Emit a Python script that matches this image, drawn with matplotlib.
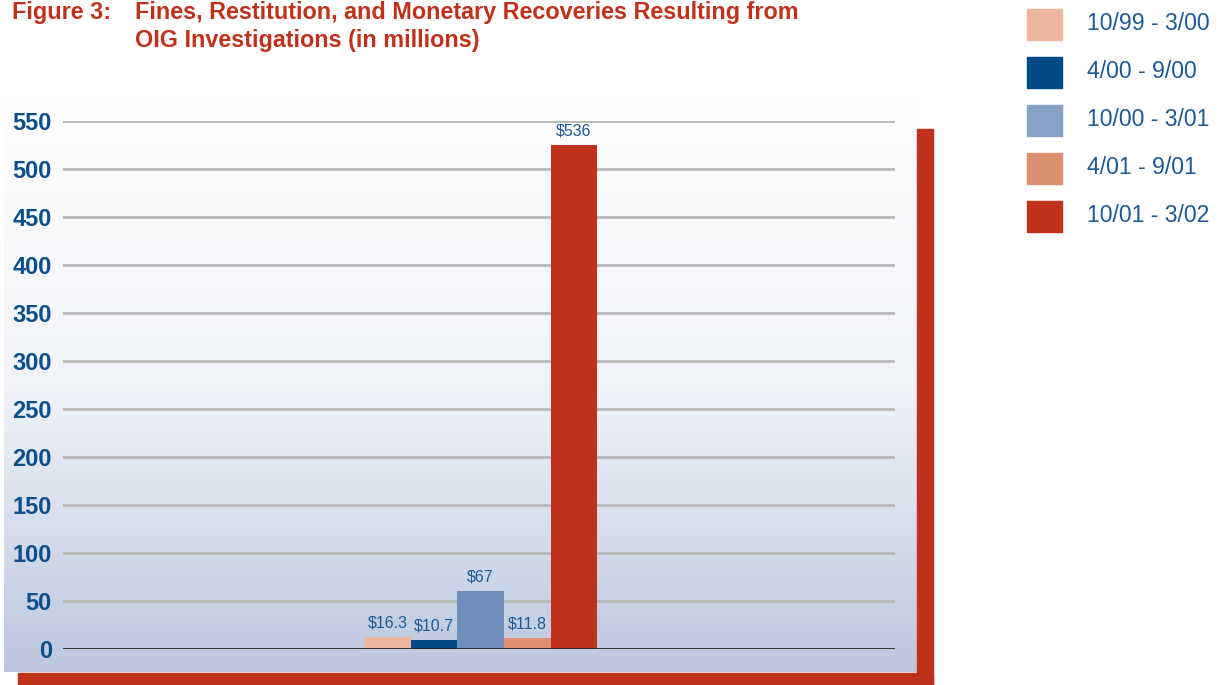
import numpy as np
import matplotlib
matplotlib.use("Agg")
import matplotlib.pyplot as plt
from matplotlib.patches import Rectangle
from matplotlib.colors import LinearSegmentedColormap

# data
periods = ["10/99 - 3/00", "4/00 - 9/00", "10/00 - 3/01", "4/01 - 9/01", "10/01 - 3/02"]
bar_heights = [12.2, 9.4, 60.4, 11.5, 525]   # drawn heights (in millions)
bar_labels = ["$16.3", "$10.7", "$67", "$11.8", "$536"]
yticks = list(range(0, 551, 50))

bar_colors = ["#ebb89e", "#004b87", "#6d8eb8", "#e0906f", "#c0311b"]
legend_colors = ["#ebb89e", "#004b87", "#87a0c5", "#dc8e70", "#c0311b"]
red = "#c0311b"
blue = "#0a4f8c"
fam = ["Liberation Sans", "DejaVu Sans"]

W, H = 1225, 685
fig = plt.figure(figsize=(W / 100, H / 100), dpi=100)

def fx(px):
    return px / W

def fy(py):
    return 1 - py / H

# gradient panel
bg = fig.add_axes([fx(4), fy(672), fx(917 - 4), fy(100) - fy(672)], zorder=0)
cmap = LinearSegmentedColormap.from_list("bg", ["#ffffff", "#f0f3f8", "#bcc7de"])
grad = np.linspace(0, 1, 256).reshape(-1, 1)
bg.imshow(grad, aspect="auto", cmap=cmap, extent=[0, 1, 0, 1], origin="upper")
bg.axis("off")

# red frame on right and bottom
fig.patches.append(Rectangle((fx(917), fy(685)), fx(16), fy(129) - fy(685),
                             transform=fig.transFigure, color=red, zorder=1))
fig.patches.append(Rectangle((fx(18), fy(685)), fx(915), fy(673) - fy(685),
                             transform=fig.transFigure, color=red, zorder=1))

ax = fig.add_axes([fx(63), fy(649), fx(895 - 63), fy(121) - fy(649)], zorder=2)
ax.patch.set_visible(False)
x = np.arange(len(periods))
ax.bar(x, bar_heights, width=1.0, color=bar_colors, zorder=3)
for xi, h, lab in zip(x, bar_heights, bar_labels):
    ax.annotate(lab, (xi, h), xytext=(0, 5), textcoords="offset points",
                ha="center", va="bottom", fontsize=11.5, color="#1a5a96",
                family=fam)

ax.set_xlim(-6.96, 10.89)
ax.set_ylim(0, 550)
ax.set_yticks(yticks)
ax.set_yticklabels([str(t) for t in yticks], fontsize=17, fontweight="bold",
                   color=blue, family=fam)
ax.set_xticks([])
ax.tick_params(axis="y", length=0, pad=8)
for t in yticks[1:]:
    ax.axhline(t, color="#b8b8b8", lw=2, zorder=1)
ax.axhline(0, color="#222222", lw=2, zorder=4)
for s in ax.spines.values():
    s.set_visible(False)

# title
fig.text(fx(12), fy(12), "Figure 3:", fontsize=16.8, fontweight="bold", color=red,
         family=fam, va="center")
fig.text(fx(135), fy(12), "Fines, Restitution, and Monetary Recoveries Resulting from",
         fontsize=16.8, fontweight="bold", color=red, family=fam, va="center")
fig.text(fx(135), fy(41), "OIG Investigations (in millions)",
         fontsize=16.8, fontweight="bold", color=red, family=fam, va="center")

# legend
for i, (lab, c) in enumerate(zip(periods, legend_colors)):
    yc = 24 + 48 * i
    fig.patches.append(Rectangle((fx(1027), fy(yc + 15.5)), fx(35), fy(yc - 15.5) - fy(yc + 15.5),
                                 transform=fig.transFigure, color=c))
    fig.text(fx(1087), fy(yc), lab, fontsize=16.6, color="#1a5a96",
             family=fam, va="center", ha="left")

fig.savefig("out.png", dpi=100)
plt.close(fig)
